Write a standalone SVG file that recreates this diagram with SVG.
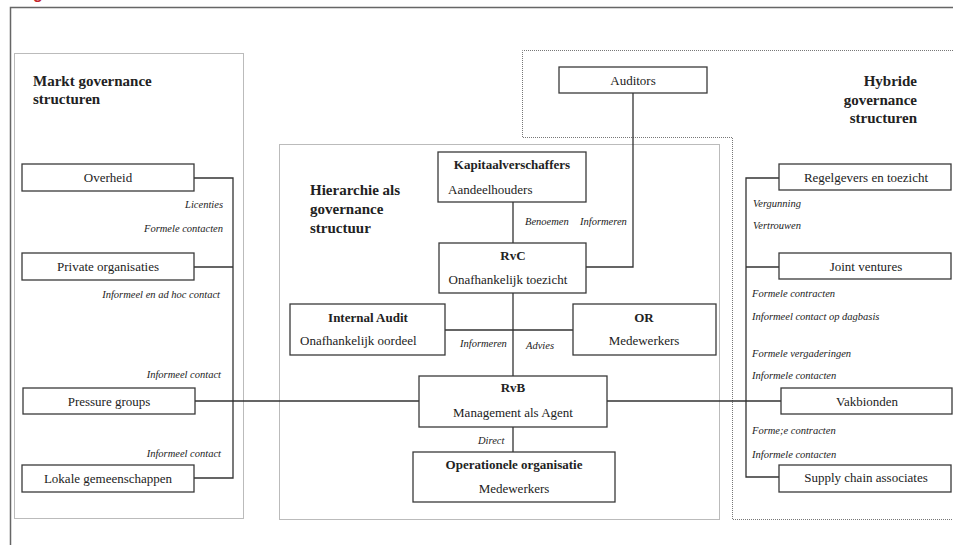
<svg xmlns="http://www.w3.org/2000/svg" width="953" height="545" viewBox="0 0 953 545">
<style>
.t{font-size:13px}
.b{font-size:13px;font-weight:bold}
.h{font-size:15px;font-weight:bold}
.i{font-size:10.5px;font-style:italic}
.c{text-anchor:middle}
.r{text-anchor:end}
.box{fill:#fff;stroke:#3a3a3a;stroke-width:1.3}
.dot{fill:none;stroke:#777;stroke-width:1;stroke-dasharray:1 1}
.ln{fill:none;stroke:#333;stroke-width:1.3}
</style>
<rect width="953" height="545" fill="#fff"/>
<text x="33" y="-1" font-family="Liberation Sans, Arial, sans-serif" font-size="16" font-weight="bold" fill="#c4262e">g</text>
<path d="M10.5,545 V7.5 H953" fill="none" stroke="#666" stroke-width="1.5"/>
<g id="panels">
<rect class="dot" x="14.5" y="53.5" width="229" height="465"/>
<rect class="dot" x="279.5" y="144.5" width="440" height="375"/>
<path class="dot" d="M953,50.5 H522.5 V137.5 H732.5 V519.5 H953"/>
</g>
<g font-family="Liberation Serif, Times New Roman, serif" fill="#222">
<g id="titles">
<text class="h" x="33" y="86">Markt governance</text>
<text class="h" x="33" y="104">structuren</text>
<text class="h" x="310" y="195">Hierarchie als</text>
<text class="h" x="310" y="214">governance</text>
<text class="h" x="310" y="233">structuur</text>
<text class="h r" x="917" y="86">Hybride</text>
<text class="h r" x="917" y="105">governance</text>
<text class="h r" x="917" y="123">structuren</text>
</g>
<g id="connectors">
<path class="ln" d="M194,178 H233 V478 H194 M194,267 H233"/>
<path class="ln" d="M195,401 H419 M607,401 H781"/>
<path class="ln" d="M779,178 H746 V477 H779 M779,267 H746"/>
<path class="ln" d="M513,202 V243 M513,293 V376 M445,330 H573 M513,427 V452"/>
<path class="ln" d="M633,93 V267 H586"/>
</g>
<g id="labels">
<text class="i r" x="223" y="208">Licenties</text>
<text class="i r" x="223" y="232">Formele contacten</text>
<text class="i r" x="220" y="298">Informeel en ad hoc contact</text>
<text class="i r" x="221" y="378">Informeel contact</text>
<text class="i r" x="221" y="457">Informeel contact</text>
<text class="i" x="525" y="225">Benoemen</text>
<text class="i" x="580" y="225">Informeren</text>
<text class="i" x="460" y="347">Informeren</text>
<text class="i" x="526" y="349">Advies</text>
<text class="i" x="478" y="444">Direct</text>
<text class="i" x="753" y="207">Vergunning</text>
<text class="i" x="753" y="229">Vertrouwen</text>
<text class="i" x="752" y="297">Formele contracten</text>
<text class="i" x="752" y="320">Informeel contact op dagbasis</text>
<text class="i" x="752" y="357">Formele vergaderingen</text>
<text class="i" x="752" y="379">Informele contacten</text>
<text class="i" x="752" y="434">Forme;e contracten</text>
<text class="i" x="752" y="458">Informele contacten</text>
</g>
<g id="overheid"><rect class="box" x="22" y="164" width="172" height="27"/><text class="t c" x="108" y="182">Overheid</text></g>
<g id="private"><rect class="box" x="22" y="253" width="172" height="27"/><text class="t c" x="108" y="271">Private organisaties</text></g>
<g id="pressure"><rect class="box" x="23" y="388" width="172" height="26"/><text class="t c" x="109" y="406">Pressure groups</text></g>
<g id="lokale"><rect class="box" x="22" y="465" width="172" height="27"/><text class="t c" x="108" y="483">Lokale gemeenschappen</text></g>
<g id="auditors"><rect class="box" x="559" y="67" width="148" height="26"/><text class="t c" x="633" y="85">Auditors</text></g>
<g id="kapitaal"><rect class="box" x="438" y="152" width="148" height="50"/><text class="b c" x="512" y="169">Kapitaalverschaffers</text><text class="t" x="448" y="194">Aandeelhouders</text></g>
<g id="rvc"><rect class="box" x="439" y="243" width="147" height="50"/><text class="b c" x="513" y="260">RvC</text><text class="t c" x="508" y="284">Onafhankelijk toezicht</text></g>
<g id="internal-audit"><rect class="box" x="290" y="304" width="155" height="51"/><text class="b c" x="368" y="322">Internal Audit</text><text class="t" x="300" y="345">Onafhankelijk oordeel</text></g>
<g id="or"><rect class="box" x="573" y="304" width="143" height="51"/><text class="b c" x="644" y="322">OR</text><text class="t c" x="644" y="345">Medewerkers</text></g>
<g id="rvb"><rect class="box" x="419" y="376" width="188" height="51"/><text class="b c" x="513" y="392">RvB</text><text class="t c" x="513" y="417">Management als Agent</text></g>
<g id="operationele"><rect class="box" x="413" y="452" width="202" height="50"/><text class="b c" x="514" y="469">Operationele organisatie</text><text class="t c" x="514" y="493">Medewerkers</text></g>
<g id="regelgevers"><rect class="box" x="779" y="164" width="172" height="26"/><text class="t c" x="866" y="182">Regelgevers en toezicht</text></g>
<g id="joint"><rect class="box" x="779" y="253" width="172" height="26"/><text class="t c" x="866" y="271">Joint ventures</text></g>
<g id="vakbonden"><rect class="box" x="781" y="388" width="171" height="26"/><text class="t c" x="867" y="406">Vakbionden</text></g>
<g id="supply"><rect class="box" x="779" y="465" width="172" height="27"/><text class="t c" x="866" y="482">Supply chain associates</text></g>
</g>
</svg>
